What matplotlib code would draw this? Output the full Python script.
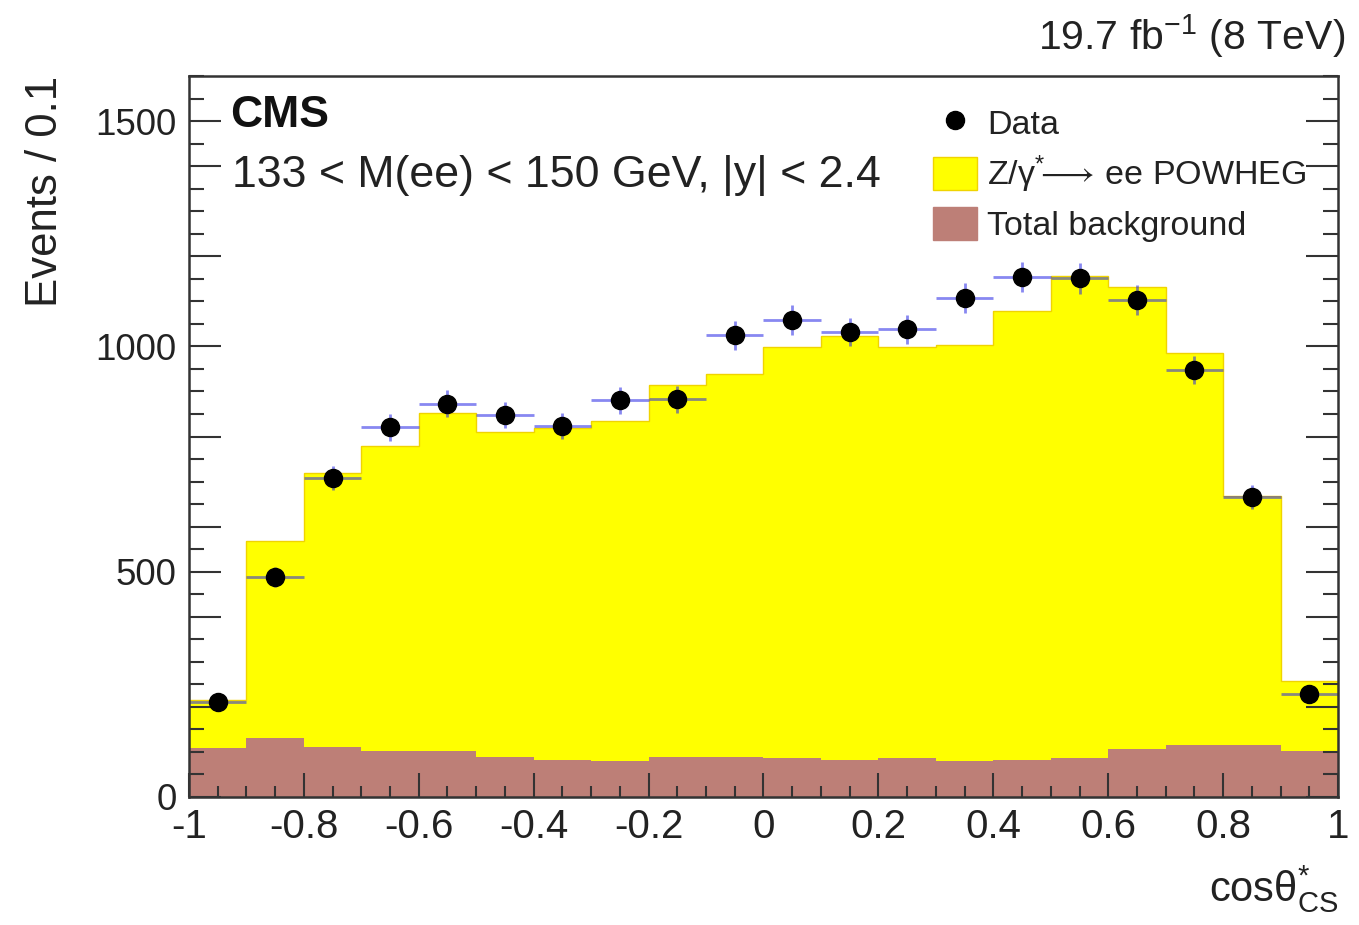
#!/usr/bin/env python3
"""CMS cos(theta*_CS) distribution, 133 < M(ee) < 150 GeV."""
import numpy as np
import matplotlib
matplotlib.use('Agg')
import matplotlib.pyplot as plt
from matplotlib.lines import Line2D
from matplotlib.patches import Patch
from matplotlib.ticker import FixedLocator, MultipleLocator, FuncFormatter

plt.rcParams['font.family'] = ['Liberation Sans', 'DejaVu Sans']
plt.rcParams['mathtext.fontset'] = 'custom'
plt.rcParams['mathtext.rm'] = 'Liberation Sans'
plt.rcParams['mathtext.it'] = 'Liberation Sans:italic'
plt.rcParams['mathtext.bf'] = 'Liberation Sans:bold'
plt.rcParams['mathtext.fallback'] = 'stixsans'
plt.rcParams['axes.unicode_minus'] = False

# bin edges of cos(theta*_CS)
bin_edges = [-1.0, -0.9, -0.8, -0.7, -0.6, -0.5, -0.4, -0.3, -0.2, -0.1, 0.0,
             0.1, 0.2, 0.3, 0.4, 0.5, 0.6, 0.7, 0.8, 0.9, 1.0]

# observed events per bin
data_counts = [210, 488, 708, 820, 873, 848, 824, 880, 883, 1025,
               1058, 1032, 1038, 1107, 1154, 1151, 1103, 947, 666, 228]
data_errors = [15, 22, 27, 29, 30, 29, 29, 30, 30, 32,
               33, 32, 32, 33, 34, 34, 33, 31, 26, 15]

# Z/gamma* -> ee POWHEG (stacked on top of background)
signal_mc = [107, 438, 607, 677, 750, 722, 735, 755, 827, 850,
             911, 939, 912, 924, 996, 1070, 1024, 870, 553, 155]

# total background
background = [108, 130, 112, 102, 102, 88, 83, 79, 88, 88,
              87, 83, 87, 79, 83, 87, 107, 115, 115, 103]

YELLOW = '#ffff00'
BROWN = '#bd7f77'
ERR_BLUE = (0.15, 0.15, 0.9, 0.55)


def main():
    edges = np.array(bin_edges)
    centers = 0.5 * (edges[:-1] + edges[1:])
    halfw = 0.5 * np.diff(edges)
    bkg = np.array(background, dtype=float)
    total = bkg + np.array(signal_mc, dtype=float)

    fig = plt.figure(figsize=(13.59, 9.25), dpi=100)
    ax = fig.add_axes([0.139, 0.1384, 0.8456, 0.7794])

    # stacked histograms
    ax.stairs(total, edges, baseline=bkg, fill=True, color=YELLOW, zorder=1)
    ax.stairs(total, edges, color='#f0d400', lw=1.0, zorder=1.1)
    ax.stairs(bkg, edges, fill=True, color=BROWN, zorder=1.2)

    # data with error bars
    ax.errorbar(centers, data_counts, xerr=halfw, yerr=data_errors, fmt='none',
                ecolor=ERR_BLUE, elinewidth=2.0, capsize=0, zorder=3)
    ax.plot(centers, data_counts, 'o', color='black', markersize=13, zorder=4)

    ax.set_xlim(-1, 1)
    ax.set_ylim(0, 1600)

    ax.xaxis.set_major_locator(MultipleLocator(0.2))
    ax.xaxis.set_minor_locator(MultipleLocator(0.05))
    ax.xaxis.set_major_formatter(FuncFormatter(lambda v, p: f'{v:g}' if abs(v) > 1e-9 else '0'))
    ax.yaxis.set_major_locator(FixedLocator([0, 200, 400, 500, 600, 800, 1000, 1200, 1400, 1500]))
    ax.yaxis.set_minor_locator(MultipleLocator(50))
    ax.yaxis.set_major_formatter(FuncFormatter(lambda v, p: f'{int(v)}' if int(v) % 500 == 0 else ''))

    ax.tick_params(axis='both', which='both', direction='in', top=False, right=True,
                   width=1.5, color='#333333', labelcolor='#222222')
    ax.tick_params(axis='x', which='major', length=17, labelsize=29, pad=8)
    ax.tick_params(axis='x', which='minor', length=8)
    ax.tick_params(axis='y', which='major', length=23, labelsize=26.5, pad=9)
    ax.tick_params(axis='y', which='minor', length=11)
    for s in ax.spines.values():
        s.set_linewidth(1.8)
        s.set_color('#333333')
        s.set_zorder(5)

    ax.set_xlabel('cos$\\mathrm{θ}^{*}_{\\mathrm{CS}}$', fontsize=30, loc='right', color='#222222')
    ax.xaxis.set_label_coords(1.0, -0.092)
    ax.set_ylabel('Events / 0.1', fontsize=31.5, loc='top', color='#222222')
    ax.yaxis.set_label_coords(-0.107, 1.0)

    ax.text(0.0357, 0.930, 'CMS', transform=ax.transAxes, fontsize=32,
            fontweight='bold', va='baseline', ha='left', color='#111111')
    ax.text(0.0374, 0.846, '133 < M(ee) < 150 GeV, |y| < 2.4', transform=ax.transAxes,
            fontsize=32.2, va='baseline', ha='left', color='#222222')
    fig.text(0.9897, 0.946, '19.7 fb$^{-1}$ (8 TeV)', fontsize=29.5,
             ha='right', va='baseline', color='#222222')

    handles = [Line2D([], [], marker='o', color='black', linestyle='none', markersize=13),
               Patch(facecolor=YELLOW, edgecolor='#f0d400'),
               Patch(facecolor=BROWN, edgecolor=BROWN)]
    labels = ['Data', 'Z/γ$^{*}\\!\\!\\longrightarrow\\,$ee POWHEG', 'Total background']
    ax.legend(handles, labels, loc='upper left', bbox_to_anchor=(0.6475, 0.958),
              frameon=False, fontsize=24.5, borderpad=0, borderaxespad=0,
              handlelength=1.3, handleheight=1.1, handletextpad=0.3,
              labelspacing=0.36, labelcolor='#222222')

    fig.savefig('out.png', dpi=100)
    plt.close(fig)


if __name__ == '__main__':
    main()
